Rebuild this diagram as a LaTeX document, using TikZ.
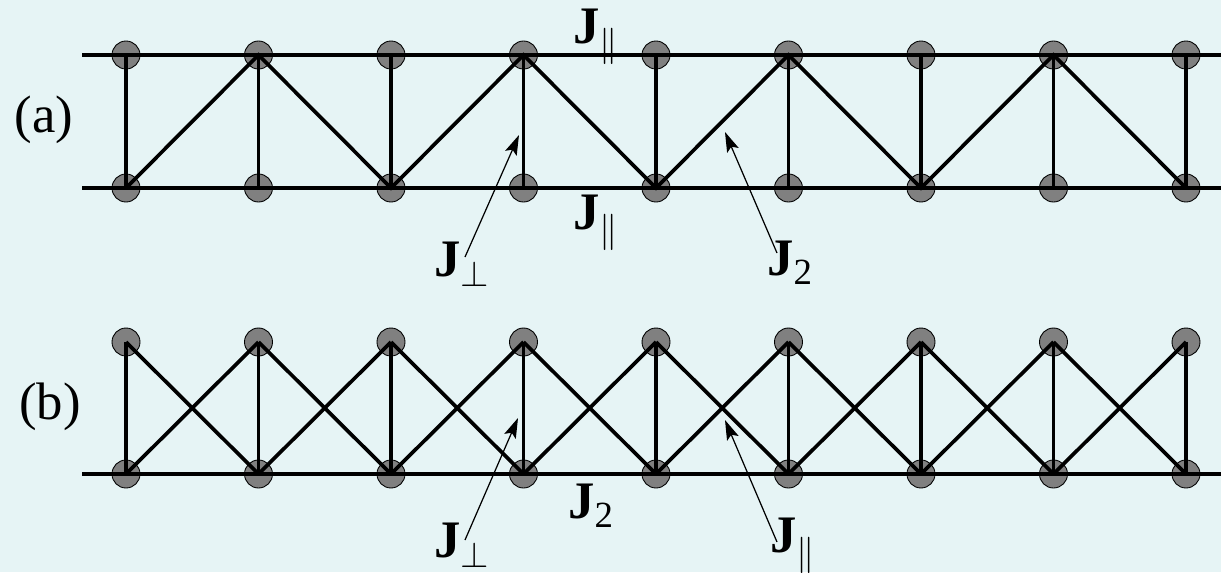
\documentclass[tikz,border=0pt]{standalone}
\usepackage{fontspec}
\setmainfont{LiberationSerif}[Extension=.ttf, UprightFont=*-Regular, BoldFont=*-Bold, ItalicFont=*-Italic, BoldItalicFont=*-BoldItalic]
\usetikzlibrary{arrows.meta,calc}
\definecolor{ladderbg}{RGB}{230,244,245}
\definecolor{sitegray}{RGB}{128,128,128}

\begin{document}
\begin{tikzpicture}[
  x=0.02cm, y=-0.02cm,
  site/.style={circle, draw=black, line width=0.5pt, fill=sitegray, minimum size=0.56cm, inner sep=0pt},
  bond/.style={line width=2.1pt, black},
  lbl/.style={inner sep=0pt, font=\fontsize{30}{36}\selectfont},
  pointer/.style={-{Stealth[length=0.4cm, width=0.25cm, inset=0.08cm]}, line width=0.7pt}
]
\fill[ladderbg] (0,0) rectangle (1221,572);
\useasboundingbox (0,0) rectangle (1221,572);

% sites of both ladders
\foreach \i in {0,...,8} {
  \pgfmathsetmacro\xx{126+132.5*\i}
  \node[site] (at\i) at (\xx,55) {};
  \node[site] (ab\i) at (\xx,188) {};
  \node[site] (bt\i) at (\xx,342) {};
  \node[site] (bb\i) at (\xx,474) {};
}
\coordinate (aLt) at (82,55);
\coordinate (aRt) at (1221,55);
\coordinate (aLb) at (82,188);
\coordinate (aRb) at (1221,188);
\coordinate (bLb) at (82,474);
\coordinate (bRb) at (1221,474);

% (a) legs, rungs and zigzag
\draw[bond] (aLt) -- (aRt);
\draw[bond] (aLb) -- (aRb);
\foreach \i in {0,...,8}
  \draw[bond] (at\i.center) -- (ab\i.center);
\draw[bond] (ab0.center) -- (at1.center) -- (ab2.center) -- (at3.center) -- (ab4.center)
  -- (at5.center) -- (ab6.center) -- (at7.center) -- (ab8.center);

% (b) one leg, rungs and crossings
\draw[bond] (bLb) -- (bRb);
\foreach \i [count=\j] in {0,...,7} {
  \draw[bond] (bt\i.center) -- (bb\i.center);
  \draw[bond] (bt\i.center) -- (bb\j.center);
  \draw[bond] (bb\i.center) -- (bt\j.center);
}
\draw[bond] (bt8.center) -- (bb8.center);

% labels
\node[lbl] (parta) at (44,120) {(a)};
\node[lbl] (partb) at (50,407) {(b)};
\node[lbl] (jparAt) at (596,37) {\textbf{J}$_{\parallel}$};
\node[lbl] (jparAb) at (596,223) {\textbf{J}$_{\parallel}$};
\node[lbl] (jperpA) at (462,264) {\textbf{J}$_{\perp}$};
\node[lbl] (jtwoA) at (790,263) {\textbf{J}\textsubscript{2}};
\node[lbl] (jperpB) at (462,545) {\textbf{J}$_{\perp}$};
\node[lbl] (jtwoB) at (591,506) {\textbf{J}\textsubscript{2}};
\node[lbl] (jparB) at (793,546) {\textbf{J}$_{\parallel}$};

\coordinate (tipPerpA) at (519,135);
\coordinate (tipTwoA) at (725,132);
\coordinate (tipPerpB) at (518,418);
\coordinate (tipParB) at (725,420);

\draw[pointer] ($(jperpA.center)+(3,-7)$) -- (tipPerpA);
\draw[pointer] ($(jtwoA.center)+(-13,-10)$) -- (tipTwoA);
\draw[pointer] ($(jperpB.center)+(3,-5)$) -- (tipPerpB);
\draw[pointer] ($(jparB.center)+(-16,-4)$) -- (tipParB);
\end{tikzpicture}
\end{document}
